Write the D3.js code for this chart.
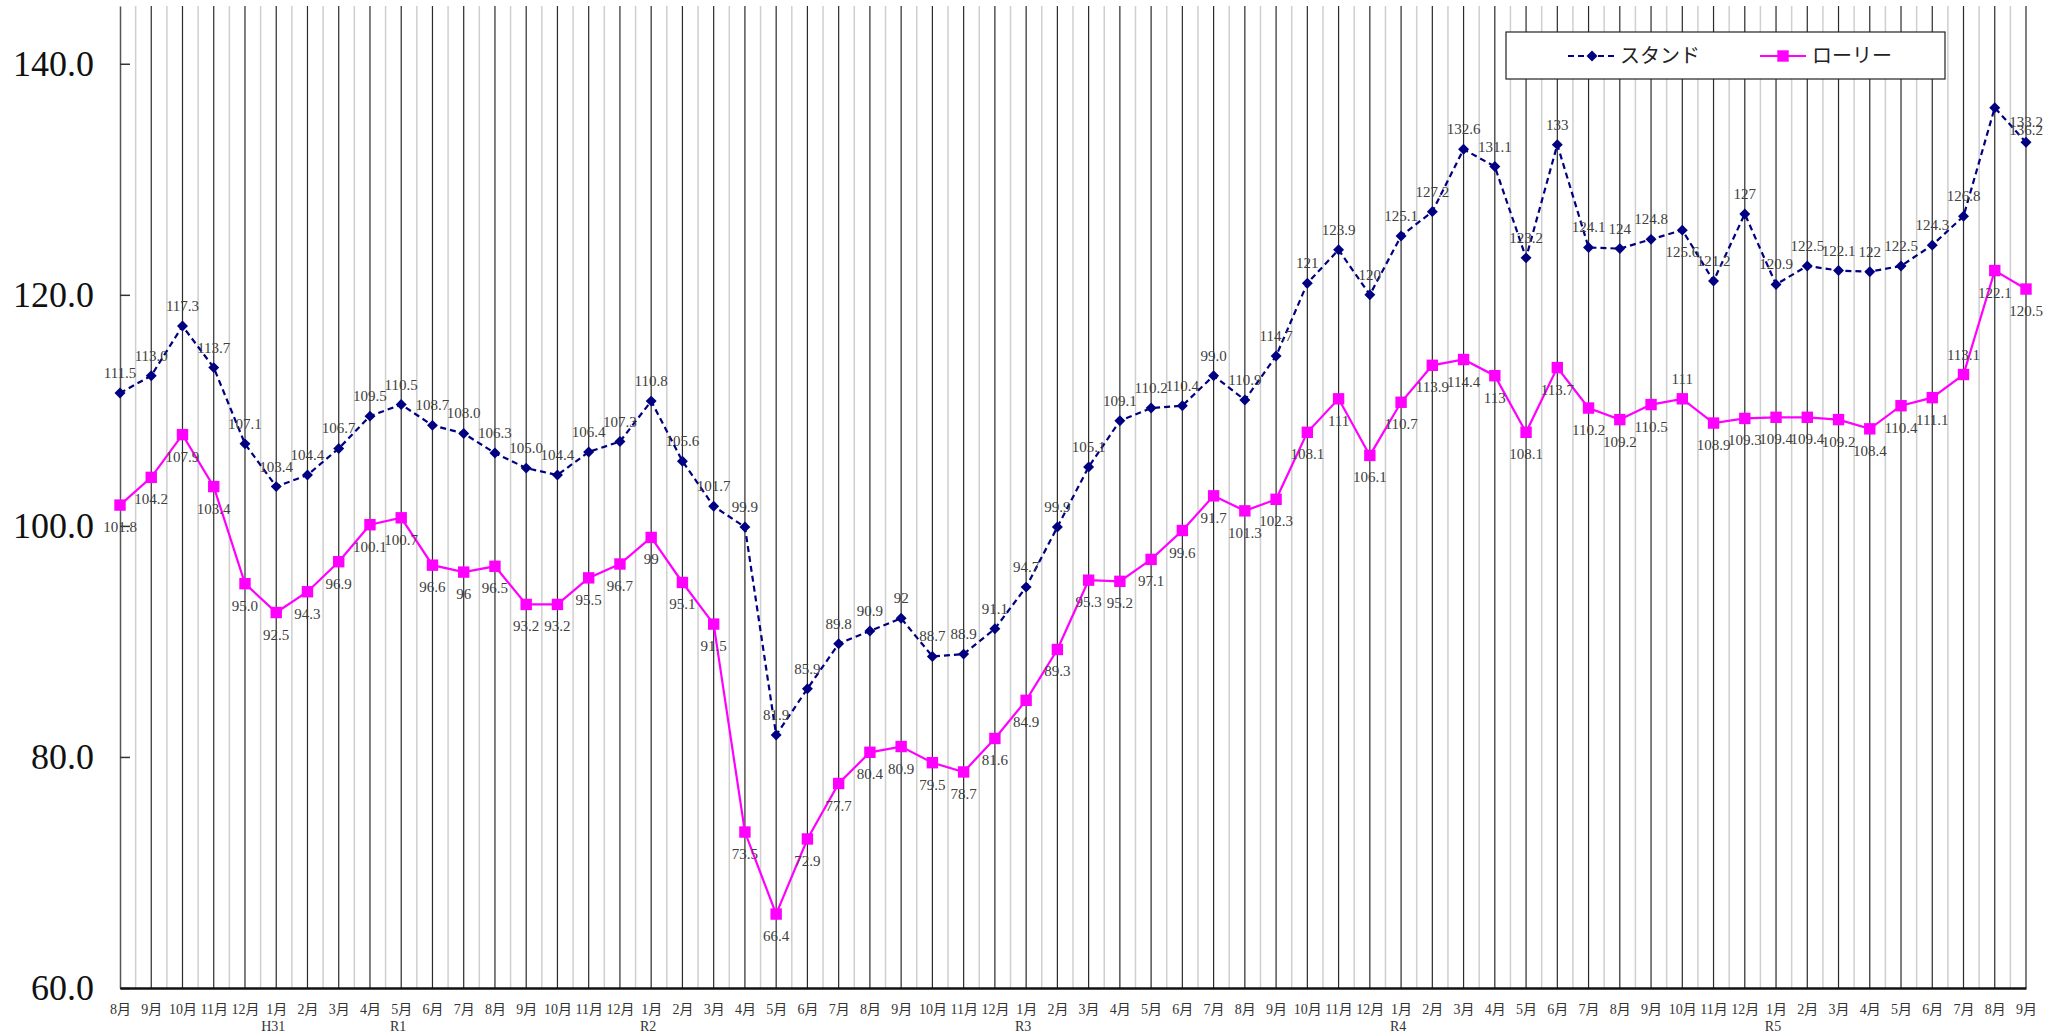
<!DOCTYPE html>
<html>
<head>
<meta charset="utf-8">
<script src="https://cdn.jsdelivr.net/npm/d3@7"></script>
<style>
  body { margin: 0; background: #fff; }
  text { font-family: "Liberation Serif", "Noto Sans CJK JP", serif; }
</style>
</head>
<body>
<svg id="chart" width="2066" height="1035"></svg>
<script>
var months = [
  "8月","9月","10月","11月","12月",
  "1月","2月","3月","4月","5月","6月","7月","8月","9月","10月","11月","12月",
  "1月","2月","3月","4月","5月","6月","7月","8月","9月","10月","11月","12月",
  "1月","2月","3月","4月","5月","6月","7月","8月","9月","10月","11月","12月",
  "1月","2月","3月","4月","5月","6月","7月","8月","9月","10月","11月","12月",
  "1月","2月","3月","4月","5月","6月","7月","8月","9月"
];

// era name and the month index it sits under
var eras = [["H31", 5], ["R1", 9], ["R2", 17], ["R3", 29], ["R4", 41], ["R5", 53]];

var stand = [
  111.5, 113.0, 117.3, 113.7, 107.1,
  103.4, 104.4, 106.7, 109.5, 110.5, 108.7, 108.0, 106.3, 105.0, 104.4, 106.4, 107.3,
  110.8, 105.6, 101.7, 99.9, 81.9, 85.9, 89.8, 90.9, 92.0, 88.7, 88.9, 91.1,
  94.7, 99.9, 105.1, 109.1, 110.2, 110.4, 113.0, 110.9, 114.7, 121.0, 123.9, 120.0,
  125.1, 127.2, 132.6, 131.1, 123.2, 133.0, 124.1, 124.0, 124.8, 125.6, 121.2, 127.0,
  120.9, 122.5, 122.1, 122.0, 122.5, 124.3, 126.8, 136.2, 133.2
];

var standLabels = [
  "111.5","113.0","117.3","113.7","107.1",
  "103.4","104.4","106.7","109.5","110.5","108.7","108.0","106.3","105.0","104.4","106.4","107.3",
  "110.8","105.6","101.7","99.9","81.9","85.9","89.8","90.9","92","88.7","88.9","91.1",
  "94.7","99.9","105.1","109.1","110.2","110.4","99.0","110.9","114.7","121","123.9","120",
  "125.1","127.2","132.6","131.1","123.2","133","124.1","124","124.8","125.6","121.2","127",
  "120.9","122.5","122.1","122","122.5","124.3","126.8","136.2","133.2"
];

var lorry = [
  101.8, 104.2, 107.9, 103.4, 95.0,
  92.5, 94.3, 96.9, 100.1, 100.7, 96.6, 96.0, 96.5, 93.2, 93.2, 95.5, 96.7,
  99.0, 95.1, 91.5, 73.5, 66.4, 72.9, 77.7, 80.4, 80.9, 79.5, 78.7, 81.6,
  84.9, 89.3, 95.3, 95.2, 97.1, 99.6, 102.6, 101.3, 102.3, 108.1, 111.0, 106.1,
  110.7, 113.9, 114.4, 113.0, 108.1, 113.7, 110.2, 109.2, 110.5, 111.0, 108.9, 109.3,
  109.4, 109.4, 109.2, 108.4, 110.4, 111.1, 113.1, 122.1, 120.5
];

var lorryLabels = [
  "101.8","104.2","107.9","103.4","95.0",
  "92.5","94.3","96.9","100.1","100.7","96.6","96","96.5","93.2","93.2","95.5","96.7",
  "99","95.1","91.5","73.5","66.4","72.9","77.7","80.4","80.9","79.5","78.7","81.6",
  "84.9","89.3","95.3","95.2","97.1","99.6","91.7","101.3","102.3","108.1","111","106.1",
  "110.7","113.9","114.4","113","108.1","113.7","110.2","109.2","110.5","111","108.9","109.3",
  "109.4","109.4","109.2","108.4","110.4","111.1","113.1","122.1","120.5"
];

var yTicks = [60, 80, 100, 120, 140];

var svg = d3.select("#chart"),
    margin = {top: 6, right: 40, bottom: 47, left: 120},
    width = +svg.attr("width") - margin.left - margin.right,
    height = +svg.attr("height") - margin.top - margin.bottom,
    g = svg.append("g").attr("transform", "translate(" + margin.left + "," + margin.top + ")");

var idx = d3.range(months.length);

var x = d3.scalePoint()
    .domain(idx)
    .range([0, width]);

var y = d3.scaleLinear()
    .domain([60, 145])
    .range([height, 0]);

var step = x.step();

// light lines between months
g.append("g")
  .selectAll("line")
  .data(idx.slice(0, -1))
  .enter().append("line")
    .attr("x1", function(d) { return x(d) + step / 2; })
    .attr("x2", function(d) { return x(d) + step / 2; })
    .attr("y1", 0)
    .attr("y2", height)
    .attr("stroke", "#cfcfcf")
    .attr("stroke-width", 1.5);

// dark lines on each month
g.append("g")
  .selectAll("line")
  .data(idx.slice(1))
  .enter().append("line")
    .attr("x1", function(d) { return x(d); })
    .attr("x2", function(d) { return x(d); })
    .attr("y1", 0)
    .attr("y2", height)
    .attr("stroke", "#2a2a2a")
    .attr("stroke-width", 1.2);

// y axis
var yAxis = g.append("g")
    .call(d3.axisLeft(y)
      .tickValues(yTicks)
      .tickSizeInner(-10)
      .tickSizeOuter(0)
      .tickPadding(26)
      .tickFormat(d3.format(".1f")));
yAxis.select(".domain").attr("stroke", "#555").attr("stroke-width", 1.5);
yAxis.selectAll(".tick line").attr("stroke", "#333").attr("stroke-width", 1.5);
yAxis.selectAll(".tick text")
    .attr("font-size", 36)
    .attr("fill", "#111")
    .style("font-family", "'Liberation Serif', serif");

// x axis
var xAxis = g.append("g")
    .attr("transform", "translate(0," + height + ")")
    .call(d3.axisBottom(x)
      .tickSize(0)
      .tickPadding(16)
      .tickFormat(function(d) { return months[d]; }));
xAxis.select(".domain").attr("stroke", "#111").attr("stroke-width", 2.5);
xAxis.selectAll(".tick text")
    .attr("font-size", 14)
    .attr("fill", "#333");

g.append("g")
  .selectAll("text")
  .data(eras)
  .enter().append("text")
    .attr("x", function(d) { return x(d[1]) - 3; })
    .attr("y", height + 43)
    .attr("text-anchor", "middle")
    .attr("font-size", 14)
    .attr("fill", "#333")
    .text(function(d) { return d[0]; });

// lines
var standLine = d3.line()
    .x(function(d, i) { return x(i); })
    .y(function(d) { return y(d); });

g.append("path")
    .datum(stand)
    .attr("fill", "none")
    .attr("stroke", "#000080")
    .attr("stroke-width", 2.2)
    .attr("stroke-dasharray", "6,4")
    .attr("d", standLine);

g.append("path")
    .datum(lorry)
    .attr("fill", "none")
    .attr("stroke", "#ff00ff")
    .attr("stroke-width", 2.2)
    .attr("d", standLine);

// markers
var diamond = d3.symbol().type(d3.symbolSquare).size(60);
var square = d3.symbol().type(d3.symbolSquare).size(130);

g.append("g")
  .selectAll("path")
  .data(stand)
  .enter().append("path")
    .attr("transform", function(d, i) { return "translate(" + x(i) + "," + y(d) + ") rotate(45)"; })
    .attr("d", diamond)
    .attr("fill", "#000080");

g.append("g")
  .selectAll("path")
  .data(lorry)
  .enter().append("path")
    .attr("transform", function(d, i) { return "translate(" + x(i) + "," + y(d) + ")"; })
    .attr("d", square)
    .attr("fill", "#ff00ff");

// data labels (a few sit on the other side of the point, as in the original)
var standBelow = {50: true};
var lorryAbove = {50: true, 59: true};

g.append("g")
  .selectAll("text")
  .data(stand)
  .enter().append("text")
    .attr("x", function(d, i) { return i === 60 ? x(61) : x(i); })
    .attr("y", function(d, i) { return (standBelow[i] || i === 60) ? y(d) + 27 : y(d) - 15; })
    .attr("text-anchor", "middle")
    .attr("font-size", 15)
    .attr("fill", "#404040")
    .text(function(d, i) { return standLabels[i]; });

g.append("g")
  .selectAll("text")
  .data(lorry)
  .enter().append("text")
    .attr("x", function(d, i) { return x(i); })
    .attr("y", function(d, i) { return lorryAbove[i] ? y(d) - 15 : y(d) + 27; })
    .attr("text-anchor", "middle")
    .attr("font-size", 15)
    .attr("fill", "#404040")
    .text(function(d, i) { return lorryLabels[i]; });

// legend
var legend = svg.append("g").attr("transform", "translate(1506,32)");

legend.append("rect")
    .attr("width", 439)
    .attr("height", 47)
    .attr("fill", "#fff")
    .attr("stroke", "#222")
    .attr("stroke-width", 1.2);

legend.append("line")
    .attr("x1", 62).attr("x2", 109)
    .attr("y1", 24).attr("y2", 24)
    .attr("stroke", "#000080")
    .attr("stroke-width", 2.2)
    .attr("stroke-dasharray", "6,4");
legend.append("path")
    .attr("transform", "translate(86,24) rotate(45)")
    .attr("d", diamond)
    .attr("fill", "#000080");
legend.append("text")
    .attr("x", 114).attr("y", 31)
    .attr("font-size", 20)
    .attr("fill", "#222")
    .style("font-family", "'Noto Sans CJK JP', sans-serif")
    .text("スタンド");

legend.append("line")
    .attr("x1", 254).attr("x2", 300)
    .attr("y1", 24).attr("y2", 24)
    .attr("stroke", "#ff00ff")
    .attr("stroke-width", 2.2);
legend.append("path")
    .attr("transform", "translate(277,24)")
    .attr("d", square)
    .attr("fill", "#ff00ff");
legend.append("text")
    .attr("x", 306).attr("y", 31)
    .attr("font-size", 20)
    .attr("fill", "#222")
    .style("font-family", "'Noto Sans CJK JP', sans-serif")
    .text("ローリー");
</script>
</body>
</html>
